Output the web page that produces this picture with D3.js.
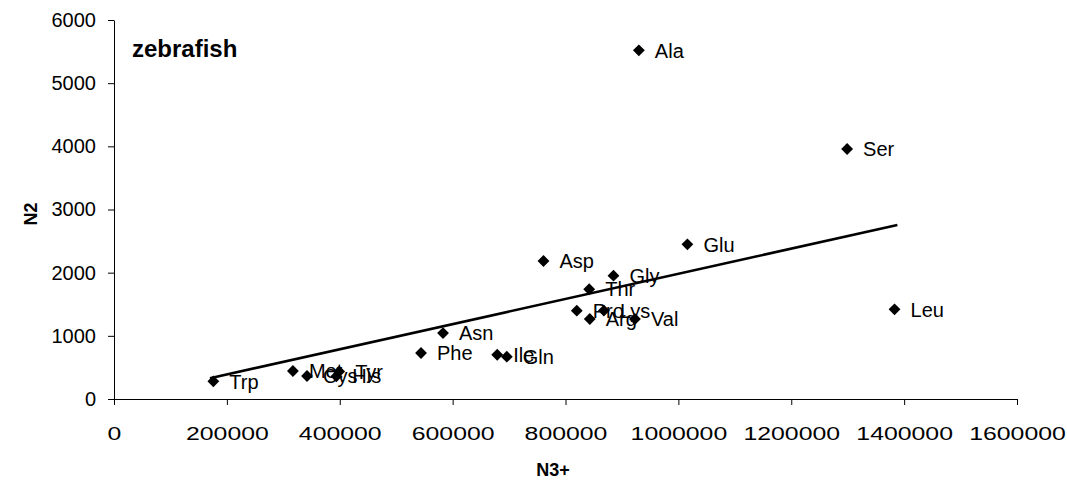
<!DOCTYPE html>
<html><head><meta charset="utf-8">
<script src="https://cdn.jsdelivr.net/npm/d3@7"></script>
<style>
html,body{margin:0;padding:0;background:#fff;}
svg{display:block;font-family:"Liberation Sans",Arial,sans-serif;}
</style></head>
<body>
<svg id="chart" width="1067" height="481"></svg>
<script>
// Data (N3+ vs N2, zebrafish)
const aminoAcids = ["Trp","Met","Cys","Tyr","His","Phe","Asn","Ile","Gln","Asp","Pro","Arg","Thr","Lys","Gly","Val","Ala","Glu","Ser","Leu"];
const n3Values  = [176000,317000,342000,399000,394000,544000,583000,679000,696000,761000,820000,843000,842000,868000,885000,923000,930000,1016000,1299000,1383000];
const n2Values  = [280,443,364,435,360,728,1044,700,670,2185,1398,1266,1737,1400,1952,1266,5520,2449,3958,1420];
// Trendline endpoints
const trendX = [170000, 1388000];
const trendY = [330, 2754];
const xTicks = [0,200000,400000,600000,800000,1000000,1200000,1400000,1600000];
const yTicks = [0,1000,2000,3000,4000,5000,6000];

const svg = d3.select("#chart");
const x = d3.scaleLinear().domain([0,1600000]).range([114,1017]);
const y = d3.scaleLinear().domain([0,6000]).range([399,20]);

// Axes
const xAxis = d3.axisBottom(x).tickValues(xTicks).tickSize(6).tickSizeOuter(0).tickFormat(d3.format("d"));
const gx = svg.append("g").attr("transform","translate(0,399)").call(xAxis);
gx.select(".domain").attr("stroke","#000");
gx.selectAll(".tick line").attr("stroke","#000");
gx.selectAll(".tick text").attr("fill","#000").attr("font-size","18px").attr("y",28)
  .attr("font-family","Liberation Sans, Arial, sans-serif")
  .each(function(d){ const s=String(d); d3.select(this).attr("textLength", s.length*13.8).attr("lengthAdjust","spacingAndGlyphs"); });

const yAxis = d3.axisLeft(y).tickValues(yTicks).tickSize(6).tickSizeOuter(0).tickFormat(d3.format("d"));
const gy = svg.append("g").attr("transform","translate(114,0)").call(yAxis);
gy.select(".domain").attr("stroke","#000");
gy.selectAll(".tick line").attr("stroke","#000");
gy.selectAll(".tick text").attr("fill","#000").attr("font-size","20px").attr("x",-18)
  .attr("font-family","Liberation Sans, Arial, sans-serif");

// Trendline
const line = d3.line().x(d=>x(d[0])).y(d=>y(d[1]));
svg.append("path").datum(trendX.map((v,i)=>[v,trendY[i]]))
  .attr("d",line).attr("fill","none").attr("stroke","#000").attr("stroke-width",2.6);

// Points
const pts = aminoAcids.map((a,i)=>({name:a,x:n3Values[i],y:n2Values[i]}));
const sym = d3.symbol().type(d3.symbolSquare).size(70);
svg.append("g").selectAll("path").data(pts).join("path")
  .attr("d",sym)
  .attr("transform",d=>`translate(${x(d.x)},${y(d.y)}) rotate(45)`)
  .attr("fill","#000");

svg.append("g").selectAll("text").data(pts).join("text")
  .attr("x",d=>x(d.x)+16).attr("y",d=>y(d.y)).attr("dy","0.36em")
  .attr("font-size","20px").attr("fill","#000").text(d=>d.name);

// Titles
svg.append("text").attr("x",132).attr("y",57).attr("font-size","24px").attr("font-weight","bold").text("zebrafish");
svg.append("text").attr("x",553).attr("y",476).attr("text-anchor","middle").attr("font-size","18px").attr("font-weight","bold").text("N3+");
svg.append("text").attr("transform","translate(37,214) rotate(-90)").attr("text-anchor","middle").attr("font-size","18px").attr("font-weight","bold").text("N2");
</script>
</body></html>
